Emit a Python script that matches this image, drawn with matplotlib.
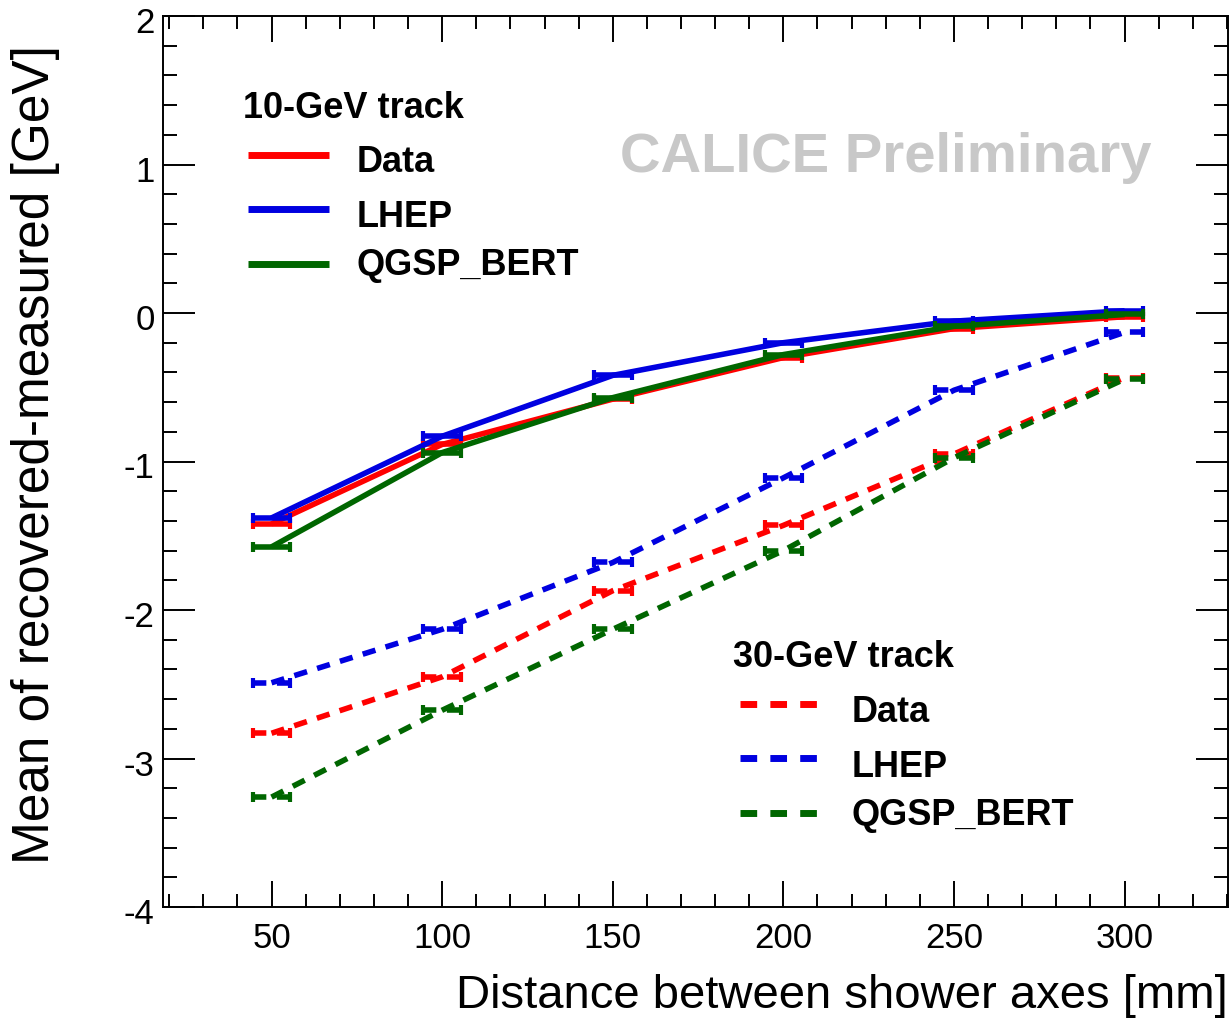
import numpy as np
import matplotlib.pyplot as plt
from matplotlib.ticker import MultipleLocator
from matplotlib.lines import Line2D
from matplotlib.transforms import ScaledTranslation

plt.rcParams['font.family'] = ['Liberation Sans', 'DejaVu Sans']

# distance between shower axes [mm] and half-width of each bin
distance = [50, 100, 150, 200, 250, 300]
distance_err = [5.5, 5.5, 5.5, 5.5, 5.5, 5.5]

# mean of (recovered - measured) energy [GeV], 10-GeV track
data_10 = [-1.42, -0.885, -0.58, -0.30, -0.105, -0.025]
lhep_10 = [-1.38, -0.83, -0.42, -0.20, -0.055, 0.015]
qgsp_10 = [-1.575, -0.94, -0.57, -0.28, -0.09, -0.01]

# 30-GeV track
data_30 = [-2.83, -2.45, -1.87, -1.43, -0.95, -0.435]
lhep_30 = [-2.49, -2.13, -1.68, -1.11, -0.52, -0.13]
qgsp_30 = [-3.26, -2.675, -2.13, -1.60, -0.975, -0.445]

labels = ['Data', 'LHEP', 'QGSP_BERT']
colors = ['#ff0000', '#0000e0', '#006600']

W, H = 1229, 1018
fig = plt.figure(figsize=(W / 100, H / 100), dpi=100)
ax = fig.add_axes([163 / W, 1 - 907 / H, (1228 - 163) / W, (907 - 16) / H])

LW = 4.0
DASH = (2.4, 1.9)


def draw_graph(y, color, dashed):
    ls = (0, DASH) if dashed else '-'
    ax.plot(distance, y, color=color, lw=LW, ls=ls, solid_capstyle='butt',
            dash_capstyle='butt', zorder=3)
    eb = ax.errorbar(distance, y, xerr=distance_err, fmt='none', ecolor=color,
                     elinewidth=LW, capsize=3.5, capthick=3, zorder=3)
    if dashed:
        for col in eb[2]:
            col.set_linestyle((0, DASH))


for y, c in zip([data_10, lhep_10, qgsp_10], colors):
    draw_graph(y, c, False)
for y, c in zip([data_30, lhep_30, qgsp_30], colors):
    draw_graph(y, c, True)

ax.set_xlim(18.2, 330.3)
ax.set_ylim(-4, 2)
ax.xaxis.set_major_locator(MultipleLocator(50))
ax.xaxis.set_minor_locator(MultipleLocator(10))
ax.yaxis.set_major_locator(MultipleLocator(1))
ax.yaxis.set_minor_locator(MultipleLocator(0.2))
ax.xaxis.set_major_formatter(plt.FuncFormatter(lambda v, p: f'{v:g}'))
ax.yaxis.set_major_formatter(plt.FuncFormatter(lambda v, p: f'{v:g}'))

ax.tick_params(which='both', direction='in', top=True, right=True,
               width=1.4, labelsize=25, colors='black')
ax.tick_params(axis='x', which='major', length=19, pad=11)
ax.tick_params(axis='x', which='minor', length=9.5)
ax.tick_params(axis='y', which='major', length=23, pad=6)
ax.tick_params(axis='y', which='minor', length=10)
for s in ax.spines.values():
    s.set_linewidth(1.4)

# ROOT-style y labels sit a little below their ticks
for lab in ax.get_yticklabels():
    lab.set_transform(lab.get_transform() + ScaledTranslation(0, -4 / 100, fig.dpi_scale_trans))

# axis titles
fig.text(1228 / W, 1 - 1008 / H, 'Distance between shower axes [mm]',
         fontsize=34, ha='right', va='baseline')
fig.text(36 / W, 1 - 45 / H, 'Mean of recovered-measured [GeV]',
         fontsize=37, rotation=90, ha='center', va='top')

# watermark
fig.text(620 / W, 1 - 172 / H, 'CALICE Preliminary', fontsize=40.5,
         fontweight='bold', color='#c8c8c8', ha='left', va='baseline')


def legend_block(title, x_title, y_title, x0, x1, x_text, rows, dashed):
    fig.text(x_title / W, 1 - y_title / H, title, fontsize=26, fontweight='bold',
             ha='left', va='baseline')
    for (y_line, y_base), lab, c in zip(rows, labels, colors):
        ls = (0, DASH) if dashed else '-'
        fig.add_artist(Line2D([x0 / W, x1 / W], [1 - y_line / H, 1 - y_line / H],
                              color=c, lw=LW + 1, ls=ls, solid_capstyle='butt',
                              dash_capstyle='butt'))
        fig.text(x_text / W, 1 - y_base / H, lab, fontsize=26, fontweight='bold',
                 ha='left', va='baseline')


legend_block('10-GeV track', 243, 118, 248, 329, 357,
             [(155, 172), (209, 227), (264, 275)], False)
legend_block('30-GeV track', 733, 667, 740, 822, 852,
             [(704, 722), (758, 777), (813, 825)], True)

fig.savefig('out.png', dpi=100, facecolor='white')
